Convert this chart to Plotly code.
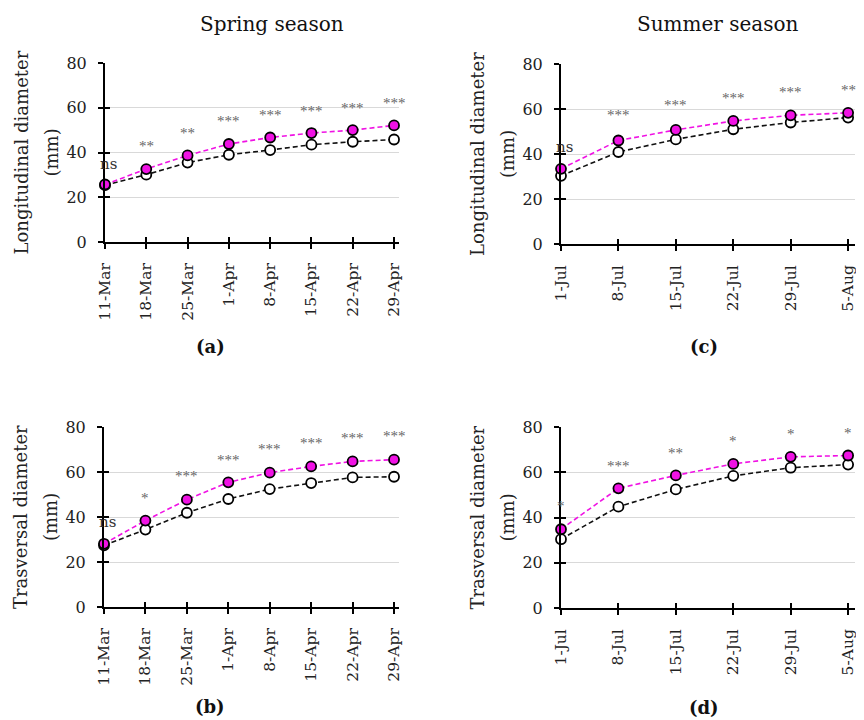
import plotly.graph_objects as go

# ---------------- data ----------------
spring_dates = ["11-Mar", "18-Mar", "25-Mar", "1-Apr", "8-Apr", "15-Apr", "22-Apr", "29-Apr"]
summer_dates = ["1-Jul", "8-Jul", "15-Jul", "22-Jul", "29-Jul", "5-Aug"]

# (a) spring, longitudinal
a_magenta = [25.7, 32.6, 38.7, 43.8, 46.7, 48.7, 50.0, 52.1]
a_control = [25.4, 30.1, 35.5, 39.0, 41.1, 43.5, 44.8, 45.8]
a_sig = ["ns", "**", "**", "***", "***", "***", "***", "***"]
a_sig_y = [34.7, 44.4, 50.0, 55.2, 58.2, 60.1, 61.4, 63.6]

# (b) spring, transversal
b_magenta = [28.1, 38.4, 47.7, 55.4, 59.7, 62.5, 64.7, 65.5]
b_control = [27.4, 34.4, 41.9, 48.0, 52.4, 55.1, 57.6, 57.9]
b_sig = ["ns", "*", "***", "***", "***", "***", "***", "***"]
b_sig_y = [37.8, 50.0, 59.6, 66.5, 71.6, 74.1, 76.3, 77.3]

# (c) summer, longitudinal
c_magenta = [33.4, 46.0, 50.7, 54.7, 57.2, 58.3]
c_control = [30.3, 40.9, 46.5, 51.0, 54.0, 56.2]
c_sig = ["ns", "***", "***", "***", "***", "**"]
c_sig_y = [42.9, 58.6, 63.0, 66.4, 68.8, 69.8]

# (d) summer, transversal
d_magenta = [34.8, 52.9, 58.6, 63.7, 66.8, 67.4]
d_control = [30.4, 44.8, 52.4, 58.4, 62.0, 63.4]
d_sig = ["*", "***", "**", "*", "*", "*"]
d_sig_y = [46.3, 64.3, 69.7, 75.3, 78.1, 78.6]

y_ticks = [0, 20, 40, 60, 80]
titles = ["Spring season", "Summer season"]
panel_labels = ["(a)", "(b)", "(c)", "(d)"]
ytitle_lines = [["Longitudinal diameter", "(mm)"], ["Trasversal diameter", "(mm)"]]

# ---------------- style ----------------
OFF = 8                      # page body margin in the browser
W, H = 864 - OFF, 720 - OFF
FONT = "DejaVu Serif, Liberation Serif, serif"
STAR_FONT = "Liberation Serif, DejaVu Serif, serif"
MAG = "#F012E4"
DASH = "5px,3px"


def px_x(p):
    return (p - OFF) / W


def px_y(p):
    return 1 - (p - OFF) / H


panels = [
    ("a", spring_dates, a_magenta, a_control, a_sig, a_sig_y, 105, 399, 63, 242, 0),
    ("c", summer_dates, c_magenta, c_control, c_sig, c_sig_y, 561, 855, 64, 244, 0),
    ("b", spring_dates, b_magenta, b_control, b_sig, b_sig_y, 104, 399, 427, 607, 1),
    ("d", summer_dates, d_magenta, d_control, d_sig, d_sig_y, 561, 855, 427, 608, 1),
]

fig = go.Figure()
layout = {}
annotations = []

for i, (name, dates, mag, ctl, sig, sigy, x0, x1, yt, yb, yl) in enumerate(panels):
    idx = "" if i == 0 else str(i + 1)
    oidx = str(i + 5)
    xa, ya = "x" + idx, "y" + idx
    n = len(dates)
    xs = list(range(n))
    extra = 0.12
    xr = [0, n - 1 + extra]
    fig.add_trace(go.Scatter(
        x=xs, y=ctl, xaxis=xa, yaxis=ya, mode="lines+markers",
        line=dict(color="#111111", width=1.6, dash=DASH),
        marker=dict(size=10, color="white", line=dict(color="black", width=1.8)),
        showlegend=False, cliponaxis=False))
    fig.add_trace(go.Scatter(
        x=xs, y=mag, xaxis=xa, yaxis=ya, mode="lines+markers",
        line=dict(color=MAG, width=1.6, dash=DASH),
        marker=dict(size=10, color=MAG, line=dict(color="black", width=1.8)),
        showlegend=False, cliponaxis=False))
    common_tick = dict(ticklen=5, tickwidth=1.5, tickcolor="black", automargin=False)
    layout["xaxis" + idx] = dict(
        domain=[px_x(x0), px_x(x1)], anchor=ya, range=xr,
        tickvals=xs, ticktext=dates, tickangle=-90,
        showline=True, linecolor="black", linewidth=2,
        ticks="outside", ticklabelstandoff=8,
        showgrid=False, zeroline=False,
        tickfont=dict(family=FONT, size=15.5, color="#222222"), **common_tick)
    layout["yaxis" + idx] = dict(
        domain=[px_y(yb), px_y(yt)], anchor=xa, range=[0, 80],
        tickvals=y_ticks, showline=True, linecolor="black", linewidth=2,
        ticks="outside", ticklabelstandoff=8,
        showgrid=True, gridcolor="#d9d9d9", gridwidth=1.2, zeroline=False,
        tickfont=dict(family=FONT, size=16, color="#222222"), **common_tick)
    # overlay axes giving the inward half of the crossing ticks
    layout["xaxis" + oidx] = dict(
        domain=[px_x(x0), px_x(x1)], anchor=ya, range=xr, overlaying=xa,
        tickvals=xs, ticks="inside", showticklabels=False, showline=False,
        showgrid=False, zeroline=False, **common_tick)
    layout["yaxis" + oidx] = dict(
        domain=[px_y(yb), px_y(yt)], anchor=xa, range=[0, 80], overlaying=ya,
        tickvals=y_ticks, ticks="inside", showticklabels=False, showline=False,
        showgrid=False, zeroline=False, **common_tick)
    fig.add_trace(go.Scatter(x=[0], y=[0], xaxis="x" + oidx, yaxis="y" + oidx,
                             mode="markers", marker=dict(opacity=0),
                             showlegend=False, hoverinfo="skip"))
    # significance marks
    for j, (s, yv) in enumerate(zip(sig, sigy)):
        is_ns = s == "ns"
        annotations.append(dict(
            x=j, y=yv, xref=xa, yref=ya, text=s, showarrow=False,
            xanchor="center", yanchor="middle",
            xshift=(3 if is_ns else 0), yshift=(0 if is_ns else -3),
            font=dict(family=(FONT if is_ns else STAR_FONT), size=15,
                      color=("#333333" if is_ns else "#666666"))))
    # y axis title, two lines
    for line_text, dx in zip(ytitle_lines[yl], [84, 54]):
        annotations.append(dict(
            x=px_x(x0 - dx), y=px_y((yt + yb) / 2), xref="paper", yref="paper",
            text=line_text, textangle=-90, showarrow=False,
            xanchor="center", yanchor="middle",
            font=dict(family=FONT, size=18, color="#222222")))

# column titles
annotations.append(dict(x=px_x(272), y=px_y(24), xref="paper", yref="paper",
                        text=titles[0], showarrow=False, xanchor="center", yanchor="middle",
                        font=dict(family=FONT, size=20, color="#111111")))
annotations.append(dict(x=px_x(718), y=px_y(24), xref="paper", yref="paper",
                        text=titles[1], showarrow=False, xanchor="center", yanchor="middle",
                        font=dict(family=FONT, size=20, color="#111111")))

# panel labels
label_pos = [(210, 346), (210, 706), (704, 346), (704, 707)]
for lab, (lx, ly) in zip(panel_labels, label_pos):
    annotations.append(dict(x=px_x(lx), y=px_y(ly), xref="paper", yref="paper",
                            text="<b>" + lab + "</b>", showarrow=False,
                            xanchor="center", yanchor="middle",
                            font=dict(family=FONT, size=18, color="#111111")))

fig.update_layout(**layout)
fig.update_layout(
    width=W, height=H, margin=dict(l=0, r=0, t=0, b=0, autoexpand=False),
    paper_bgcolor="white", plot_bgcolor="white",
    annotations=annotations, showlegend=False)

fig.write_html("out.html")
